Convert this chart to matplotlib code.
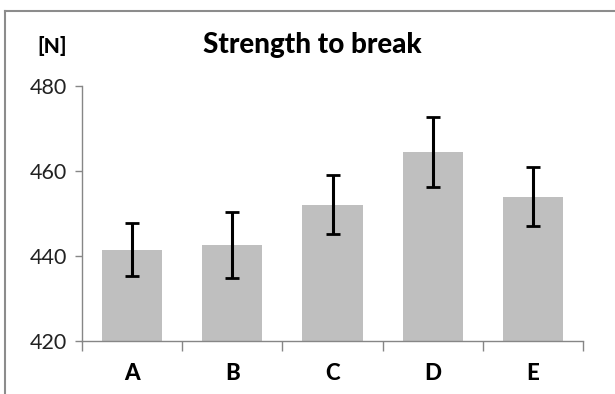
import matplotlib.pyplot as plt
from matplotlib.lines import Line2D

# data
categories = ['A', 'B', 'C', 'D', 'E']
strength = [441.5, 442.6, 452.1, 464.5, 454.0]
errors = [6.2, 7.8, 6.9, 8.2, 7.0]
y_ticks = [420, 440, 460, 480]

plt.rcParams['font.family'] = ['Lato', 'DejaVu Sans']

fig = plt.figure(figsize=(6.15, 3.94), dpi=100)
ax = fig.add_axes([82 / 615, 1 - 341 / 394, 501 / 615, 255 / 394])

x = list(range(len(categories)))
ax.bar(x, [v - 420 for v in strength], bottom=420, width=0.6,
       color='#BFBFBF', zorder=2)
ax.errorbar(x, strength, yerr=errors, fmt='none', ecolor='black',
            elinewidth=2.2, capsize=5, capthick=2, zorder=3)

ax.set_xlim(-0.5, 4.5)
ax.set_ylim(420, 480)
ax.set_yticks(y_ticks)
ax.tick_params(axis='y', labelsize=15.5, length=5, color='#868686',
               width=1, pad=6, labelcolor='#222222')

# category labels between boundary ticks
ax.set_xticks([i - 0.5 for i in range(len(categories) + 1)])
ax.set_xticklabels([])
ax.set_xticks(x, minor=True)
ax.set_xticklabels(categories, minor=True, fontsize=16, fontweight='black')
ax.tick_params(axis='x', which='major', length=7, color='#868686', width=1)
ax.tick_params(axis='x', which='minor', length=0, pad=16)

for s in ['top', 'right']:
    ax.spines[s].set_visible(False)
for s in ['left', 'bottom']:
    ax.spines[s].set_color('#868686')
    ax.spines[s].set_linewidth(1)

fig.text(312 / 615, 1 - 45 / 394, 'Strength to break', fontsize=20,
         fontweight='black', ha='center', va='center')
fig.text(52 / 615, 1 - 46 / 394, '[N]', fontsize=15,
         fontweight='black', ha='center', va='center')

# outer chart frame (cut off at right and bottom)
fig.add_artist(Line2D([5 / 615, 5 / 615], [0, 1 - 11 / 394],
                      transform=fig.transFigure, color='#8C8C8C', lw=1.5))
fig.add_artist(Line2D([5 / 615, 1], [1 - 11 / 394, 1 - 11 / 394],
                      transform=fig.transFigure, color='#8C8C8C', lw=1.5))

fig.savefig('out.png', dpi=100)
